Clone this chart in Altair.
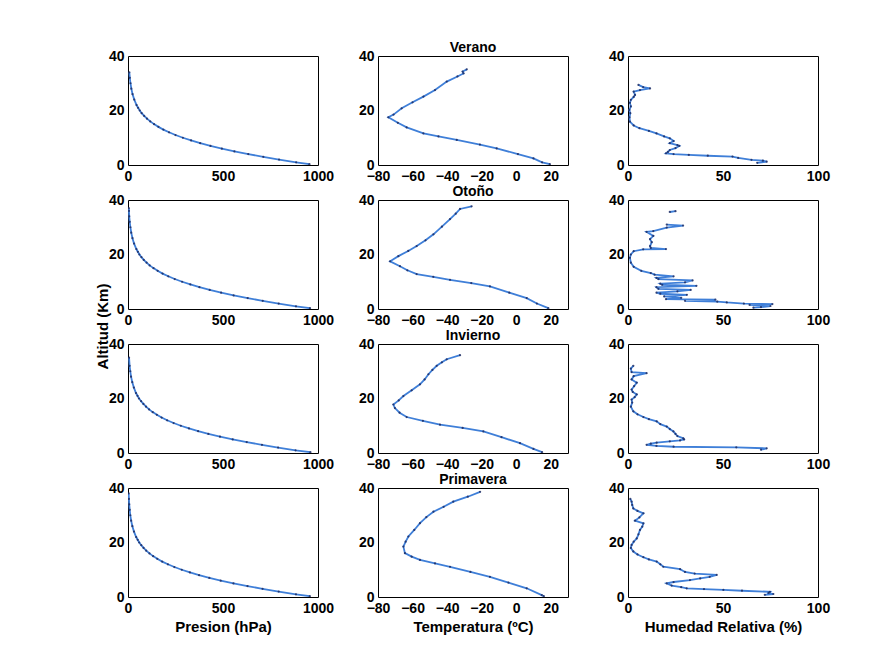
import altair as alt
import pandas as pd

FONT = "Liberation Sans"
LINE_COLOR = "#3f7fd8"
DOT_COLOR = "#1d2c63"

seasons = ["Verano", "Otoño", "Invierno", "Primavera"]

# ---------------- Presion (hPa) ----------------
p_alt_verano = [0.3, 1, 2, 3, 4, 5, 6, 7, 8, 9, 10, 11, 12, 13, 14, 15, 16, 17, 18, 19, 20, 21, 22, 24, 26, 28, 30, 32, 34]
p_val_verano = [955, 885, 795, 712, 633, 560, 494, 434, 380, 332, 289, 250, 216, 186, 160, 137, 117, 100, 85, 72, 62, 53, 45, 33, 24, 17.5, 13, 9.5, 7]

p_alt_otono = [0.3, 1, 2, 3, 4, 5, 6, 7, 8, 9, 10, 11, 12, 13, 14, 15, 16, 17, 18, 19, 20, 21, 22, 24, 26, 28, 30, 32, 34, 36, 37]
p_val_otono = [958, 884, 793, 709, 630, 556, 490, 430, 376, 328, 285, 246, 212, 182, 156, 134, 114, 98, 83, 71, 60, 52, 44, 32, 23.5, 17, 12.5, 9, 6.5, 5, 4.3]

p_alt_invierno = [0.3, 1, 2, 3, 4, 5, 6, 7, 8, 9, 10, 11, 12, 13, 14, 15, 16, 17, 18, 19, 20, 21, 22, 24, 26, 28, 30, 32, 35]
p_val_invierno = [960, 882, 790, 705, 625, 551, 484, 423, 369, 321, 278, 240, 206, 177, 152, 130, 111, 95, 81, 69, 58, 50, 42, 31, 22.5, 16, 12, 8.5, 5.5]

p_alt_primavera = [0.3, 1, 2, 3, 4, 5, 6, 7, 8, 9, 10, 11, 12, 13, 14, 15, 16, 17, 18, 19, 20, 21, 22, 24, 26, 28, 30, 32, 34, 36, 38]
p_val_primavera = [957, 884, 793, 708, 629, 555, 488, 428, 374, 326, 283, 244, 210, 180, 154, 132, 113, 96, 82, 70, 59, 51, 43, 31.5, 23, 16.5, 12, 9, 6.5, 4.8, 3.5]

# ---------------- Temperatura (ºC) ----------------
t_alt_verano = [0.3, 1.0, 2.4, 4.0, 6.1, 7.5, 9.2, 10.5, 11.6, 13.8, 15.5, 17.5, 18.5, 20.8, 23.0, 25.1, 27.5, 30.6, 32.5, 33.6, 34.3, 35.1]
t_val_verano = [19.5, 15, 10, 1, -11.3, -21, -34.4, -45, -53.7, -63.4, -68.5, -74, -71, -66.3, -60, -53.7, -47, -40.2, -34, -30.5, -31, -28.6]

t_alt_otono = [0.3, 2.0, 4.0, 6.0, 8.3, 9.5, 10.7, 11.8, 12.8, 14.2, 15.7, 17.5, 19.4, 21.3, 23.1, 25.2, 27.4, 30.2, 33.0, 35.0, 36.7, 37.7]
t_val_otono = [18.6, 12, 6.1, -4, -15.2, -26, -38.3, -48, -57.6, -63, -67.3, -73, -68.2, -62.5, -57.6, -52.5, -47.9, -43, -38.3, -35, -32.5, -25.8]

t_alt_invierno = [0.3, 1.5, 3.6, 5.8, 7.9, 9.2, 10.4, 11.8, 13.2, 14.8, 16.5, 17.8, 19.3, 20.9, 23.0, 25.2, 27.0, 28.9, 30.5, 32.0, 33.3, 34.4, 35.9]
t_val_invierno = [15, 10, 2.2, -8.5, -19, -31, -44.1, -54, -63.4, -67.5, -70.2, -71.1, -68, -65.3, -60.5, -55.7, -53, -50.8, -48.5, -46, -43, -40.2, -32.5]

t_alt_primavera = [0.3, 0.7, 3.2, 5.3, 7.4, 9.2, 11.1, 12.3, 13.6, 14.8, 16.1, 18.5, 20.3, 22.2, 24.6, 27.1, 29.3, 31.3, 33.1, 35.0, 36.8, 38.6]
t_val_primavera = [16, 14.8, 6.1, -4.5, -15.2, -26.5, -38.3, -47, -55.7, -60.5, -64.4, -65.3, -64, -62.4, -59, -55.7, -52, -47.9, -42, -36.4, -28, -20.9]

# ---------------- Humedad Relativa (%) ----------------
h_alt_verano = [0.8, 1.2, 1.6, 1.9, 2.6, 3.1, 3.4, 3.7, 4.0, 4.3, 4.8, 5.5, 6.2, 7.0, 7.3, 8.0, 8.8, 9.8, 10.5, 11.6, 12.5, 13.5, 14.5, 15.9, 17.5, 19.0, 20.2, 21.5, 22.8, 23.9, 25.0, 25.7, 26.9, 27.5, 28.1, 28.6, 29.4]
h_val_verano = [68, 73, 71, 65, 58, 55, 42, 32, 24, 20, 21, 22, 25, 27, 26, 22, 24, 22, 19, 15, 11, 6, 3, 1, 0.8, 1.2, 0.7, 1.5, 1, 1.5, 3, 3.7, 3, 6.3, 11.6, 8, 5.5]
h_seg_verano = [0] * 37

h_alt_otono = [0.5, 0.7, 1.1, 1.5, 1.8, 2.0, 2.4, 2.7, 3.0, 3.4, 3.6, 4.1, 4.6, 5.2, 5.6, 6.0, 6.5, 7.0, 7.4, 8.0, 8.5, 8.9, 9.3, 9.8, 10.5, 11.0, 11.4, 12.0, 12.6, 13.2, 14.0, 15.5, 17.0, 18.8, 20.0, 21.2, 21.9, 22.0, 22.4, 23.1, 24.5, 25.6, 26.8, 28.3, 28.6, 29.9, 30.6, 31.0, 35.6, 35.9]
h_val_otono = [66, 70, 75, 64, 76, 61, 52, 47, 30, 46, 20, 28, 19, 31, 17, 15, 26, 33, 16, 15, 36, 18, 17, 30, 34, 16, 15, 24, 14, 12, 7, 3, 1.5, 1, 1.5, 3, 8, 20, 12, 11.6, 12.5, 11.6, 13.3, 9.8, 13.3, 20.4, 29, 20.4, 22, 25]
h_seg_otono = [0] * 48 + [1, 1]

h_alt_invierno = [1.2, 1.7, 2.1, 2.3, 2.6, 3.0, 3.4, 3.8, 4.3, 4.6, 5.0, 5.4, 6.2, 7.0, 7.9, 8.8, 9.7, 10.6, 11.6, 12.4, 13.2, 14.2, 15.3, 17.0, 18.5, 19.6, 20.5, 21.5, 22.4, 23.3, 24.5, 25.8, 27.0, 28.2, 29.3, 29.7, 31.0, 32.0]
h_val_invierno = [70, 73, 57, 24, 15, 9.8, 12, 15.1, 22, 27.4, 29.5, 29.1, 26, 25, 23.9, 22, 20.4, 17, 15.1, 11, 8.1, 5, 2.8, 1.5, 2.2, 1.9, 3.5, 4.6, 2.5, 1.9, 3.2, 4.6, 1.9, 3, 9.8, 1.9, 1.5, 2.8]
h_seg_invierno = [0] * 38

h_alt_primavera = [0.8, 1.1, 1.5, 1.9, 2.3, 2.6, 2.9, 3.2, 3.6, 4.2, 5.0, 5.5, 6.2, 6.8, 7.4, 8.1, 8.6, 9.2, 10.2, 11.1, 12.0, 13.0, 13.8, 14.6, 15.6, 16.7, 18.0, 19.1, 20.3, 21.5, 23.0, 24.6, 25.8, 27.0, 28.0, 29.2, 30.7, 31.6, 32.5, 33.8, 35.0, 36.0]
h_val_primavera = [72, 76.5, 74, 74.7, 60, 50.2, 40, 30.9, 28, 23, 20.4, 24, 32.6, 38, 43, 46.7, 35.1, 30, 27.4, 18.6, 17, 15.1, 11, 8.1, 5, 2.8, 1.5, 1.9, 3, 4.6, 5.5, 6.3, 7.5, 8.1, 3.7, 6, 8.1, 5, 2.8, 2.2, 1.9, 1.2]
h_seg_primavera = [0] * 42

pres = {
    "Verano": (p_alt_verano, p_val_verano),
    "Otoño": (p_alt_otono, p_val_otono),
    "Invierno": (p_alt_invierno, p_val_invierno),
    "Primavera": (p_alt_primavera, p_val_primavera),
}
temp = {
    "Verano": (t_alt_verano, t_val_verano),
    "Otoño": (t_alt_otono, t_val_otono),
    "Invierno": (t_alt_invierno, t_val_invierno),
    "Primavera": (t_alt_primavera, t_val_primavera),
}
hum = {
    "Verano": (h_alt_verano, h_val_verano, h_seg_verano),
    "Otoño": (h_alt_otono, h_val_otono, h_seg_otono),
    "Invierno": (h_alt_invierno, h_val_invierno, h_seg_invierno),
    "Primavera": (h_alt_primavera, h_val_primavera, h_seg_primavera),
}

x_domains = [[0, 1000], [-80, 30], [0, 100]]
x_ticks = [[0, 500, 1000], [-80, -60, -40, -20, 0, 20], [0, 50, 100]]
x_titles = ["Presion (hPa)", "Temperatura (ºC)", "Humedad Relativa (%)"]
y_domain = [0, 40]
y_ticks = [0, 20, 40]
y_title = "Altitud (Km)"

PW, PH = 190, 109


def panel(alts, vals, segs, col, row, season):
    df = pd.DataFrame({"alt": alts, "v": vals, "seg": segs, "i": list(range(len(alts)))})
    xaxis_kwargs = dict(values=x_ticks[col], labelPadding=4, format="d")
    if row == 3:
        xaxis_kwargs["title"] = x_titles[col]
        xaxis_kwargs["titlePadding"] = 4
    else:
        xaxis_kwargs["title"] = None
    yaxis_kwargs = dict(values=y_ticks, labelPadding=4, format="d")
    if row == 1 and col == 0:
        yaxis_kwargs.update(title=y_title, titleX=-26, titleY=126, titleAngle=270,
                            titleAlign="center", titleBaseline="middle")
    else:
        yaxis_kwargs["title"] = None
    base = alt.Chart(df).encode(
        x=alt.X("v:Q", scale=alt.Scale(domain=x_domains[col], nice=False, zero=False),
                axis=alt.Axis(**xaxis_kwargs)),
        y=alt.Y("alt:Q", scale=alt.Scale(domain=y_domain, nice=False),
                axis=alt.Axis(**yaxis_kwargs)),
        order=alt.Order("i:Q"),
        detail=alt.Detail("seg:N"),
    )
    line = base.mark_line(color=LINE_COLOR, strokeWidth=1.8, clip=True)
    dots = base.mark_circle(color=DOT_COLOR, size=5, opacity=0.85, clip=True)
    props = dict(width=PW, height=PH)
    if col == 1:
        props["title"] = alt.TitleParams(season, anchor="middle", offset=-6)
    return alt.layer(line, dots).properties(**props)


panels = []
for r, s in enumerate(seasons):
    pa, pv = pres[s]
    panels.append(panel(pa, pv, [0] * len(pa), 0, r, s))
    ta, tv = temp[s]
    panels.append(panel(ta, tv, [0] * len(ta), 1, r, s))
    ha, hv, hs = hum[s]
    panels.append(panel(ha, hv, hs, 2, r, s))

chart = alt.concat(*panels, columns=3).properties(
    spacing={"row": 35, "column": 60},
    bounds="flush",
    padding={"left": 86, "top": 32, "right": 5, "bottom": 5},
    background="white",
).configure_axis(
    labelFont=FONT, labelFontSize=14, labelFontWeight="bold", labelColor="black",
    titleFont=FONT, titleFontSize=15, titleFontWeight="bold", titleColor="black",
    ticks=False, grid=False, domain=False, labelFlush=False, labelOverlap=False,
).configure_view(
    stroke="black", strokeWidth=1,
).configure_title(
    font=FONT, fontSize=14, fontWeight="bold", color="black",
)

chart.save("out.html", embed_options={"renderer": "svg", "actions": False})
